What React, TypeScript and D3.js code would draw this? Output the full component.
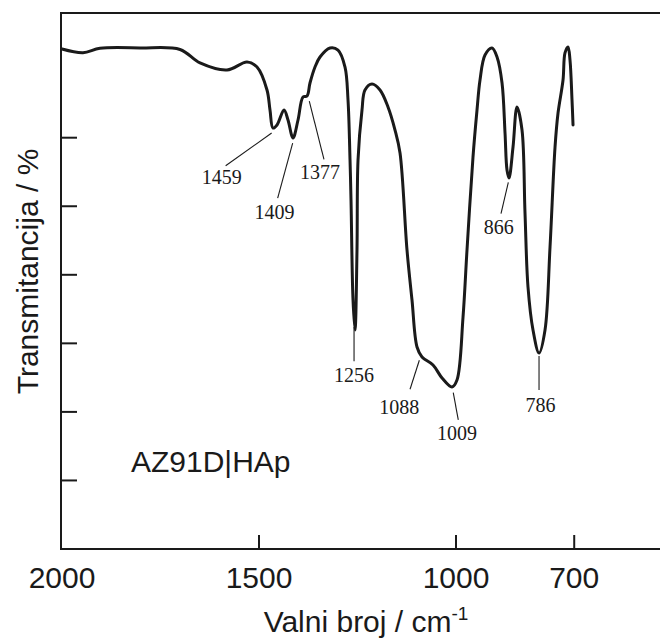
import React from "react";
import * as d3 from "d3";

// Spectrum (wavenumber cm^-1, transmittance arbitrary %)
const wavenumbers = [
  2000, 1946.7, 1903.6, 1802.0, 1700.5, 1649.7, 1581.2, 1530.5, 1505.1, 1479.7,
  1472.1, 1464.5, 1454.3, 1436.5, 1426.4, 1413.7, 1401.0, 1388.3, 1378.2, 1370.6,
  1357.9, 1345.2, 1319.8, 1299.5, 1281.7, 1274.1, 1269.0, 1266.5, 1261.4, 1256.3,
  1251.3, 1248.7, 1238.6, 1231.0, 1213.2, 1192.9, 1172.6, 1154.8, 1142.1, 1124.4,
  1111.7, 1099.0, 1086.3, 1058.4, 1035.5, 1010.2, 997.5, 982.2, 972.1, 956.9,
  946.7, 939.1, 926.4, 908.6, 895.9, 883.2, 875.6, 870.6, 865.5, 855.3,
  845.2, 832.5, 824.9, 817.3, 804.6, 789.3, 774.1, 761.4, 748.7, 741.1,
  728.4, 723.4, 715.7, 710.7, 705.6, 703.0,
];
const transmittance = [
  72.94, 72.40, 73.04, 73.09, 72.87, 70.90, 69.88, 71.04, 70.31, 66.96,
  64.04, 61.41, 61.85, 64.04, 62.58, 59.96, 62.58, 65.94, 66.08, 67.98,
  70.31, 71.77, 73.09, 72.79, 70.31, 65.50, 56.75, 50.91, 36.32, 31.95,
  43.62, 56.75, 64.04, 66.96, 67.83, 66.96, 64.48, 61.12, 57.77, 43.62,
  36.32, 29.47, 28.01, 26.84, 24.95, 23.63, 24.65, 33.84, 43.62, 57.18,
  64.04, 68.42, 72.06, 73.09, 71.77, 67.98, 60.69, 55.29, 54.12, 58.64,
  64.48, 61.12, 49.02, 38.22, 31.95, 28.59, 31.95, 44.06, 58.64, 63.60,
  68.42, 72.36, 73.23, 71.33, 65.50, 61.85,
];

const xTickValues = [2000, 1500, 1000, 700];
const yTickValues = [10, 20, 30, 40, 50, 60];

const peakWavenumbers = [1459, 1409, 1377, 1256, 1088, 1009, 866, 786];
const peakLabels = ["1459", "1409", "1377", "1256", "1088", "1009", "866", "786"];

// leader layout offsets (pixels) relative to the peak on the curve:
// [startDx, startDy, endDx, endDy, textDx, textDy]
const peakLayout = [
  [-3.5, 6.6, -49.5, 39.3, -53.5, 57.6],
  [-2.2, 11.8, -17.2, 66.8, -20.4, 87.8],
  [1.8, 7.2, 16.5, 65.5, 12.5, 84.8],
  [-1.1, 1.7, -1.1, 36, -1.1, 56.7],
  [-2, 4.6, -11.3, 33.6, -22, 57.9],
  [0.8, 6.2, 5.8, 33.5, 4.5, 53.5],
  [-0.5, 5.2, -7.8, 36.5, -10.1, 56.5],
  [-1.3, 7.9, -1.3, 41.9, 0.2, 63.6],
];

const W = 660;
const H = 638;
const left = 61;
const top = 13;
const bottom = 549;

const x = d3.scaleLinear().domain([2000, 480]).range([62, 660.9]);
const y = d3.scaleLinear().domain([0, 10]).range([bottom, bottom - 68.55]);

function curveAt(wn: number): number {
  for (let i = 0; i < wavenumbers.length - 1; i++) {
    const a = wavenumbers[i];
    const b = wavenumbers[i + 1];
    if (wn <= a && wn >= b) {
      const t = (a - wn) / (a - b);
      return transmittance[i] + t * (transmittance[i + 1] - transmittance[i]);
    }
  }
  return transmittance[transmittance.length - 1];
}

export default function App() {
  const pts: [number, number][] = wavenumbers.map((w, i) => [w, transmittance[i]]);
  const line = d3
    .line<[number, number]>()
    .x((d) => x(d[0]))
    .y((d) => y(d[1]))
    .curve(d3.curveCatmullRom.alpha(0.5));

  const sans = "'Liberation Sans', Arial, sans-serif";
  const serif = "'Liberation Serif', 'Times New Roman', serif";

  return (
    <svg
      width={W}
      height={H}
      style={{ position: "absolute", left: 0, top: 0, background: "#fff" }}
    >
      <rect x={0} y={0} width={W} height={H} fill="#fff" />
      {/* frame */}
      <g stroke="#1a1a1a" strokeWidth={2} fill="none">
        <line x1={left} y1={top} x2={W} y2={top} />
        <line x1={left} y1={bottom} x2={W} y2={bottom} />
        <line x1={left} y1={top - 1} x2={left} y2={bottom + 1} />
      </g>
      {/* y ticks */}
      {yTickValues.map((v) => (
        <line key={"yt" + v} x1={left} x2={left + 16} y1={y(v)} y2={y(v)} stroke="#1a1a1a" strokeWidth={2} />
      ))}
      {/* x ticks */}
      {xTickValues.map((v) => (
        <g key={"xt" + v}>
          {v !== 2000 && (
            <line x1={x(v)} x2={x(v)} y1={bottom} y2={bottom - 14} stroke="#1a1a1a" strokeWidth={2} />
          )}
          <text
            x={x(v)}
            y={588}
            textAnchor="middle"
            fontFamily={sans}
            fontSize={30}
            fill="#1a1a1a"
          >
            {v}
          </text>
        </g>
      ))}
      {/* axis titles */}
      <text x={366} y={631.5} textAnchor="middle" fontFamily={sans} fontSize={30} fill="#1a1a1a">
        Valni broj / cm
        <tspan fontSize={19} dy={-12}>-1</tspan>
      </text>
      <text
        transform="translate(38,271.5) rotate(-90)"
        textAnchor="middle"
        fontFamily={sans}
        fontSize={30}
        fill="#1a1a1a"
      >
        Transmitancija / %
      </text>
      <text x={131} y={471.5} fontFamily={sans} fontSize={30} fill="#1a1a1a">
        AZ91D|HAp
      </text>
      {/* spectrum */}
      <path d={line(pts) || ""} fill="none" stroke="#1a1a1a" strokeWidth={3} strokeLinejoin="round" strokeLinecap="round" />
      {/* peak annotations */}
      {peakWavenumbers.map((wn, i) => {
        const px = x(wn);
        const py = y(curveAt(wn));
        const L = peakLayout[i];
        return (
          <g key={"pk" + wn}>
            <line
              x1={px + L[0]}
              y1={py + L[1]}
              x2={px + L[2]}
              y2={py + L[3]}
              stroke="#1a1a1a"
              strokeWidth={1.1}
            />
            <text
              x={px + L[4]}
              y={py + L[5]}
              textAnchor="middle"
              fontFamily={serif}
              fontSize={20}
              fill="#1a1a1a"
            >
              {peakLabels[i]}
            </text>
          </g>
        );
      })}
    </svg>
  );
}
